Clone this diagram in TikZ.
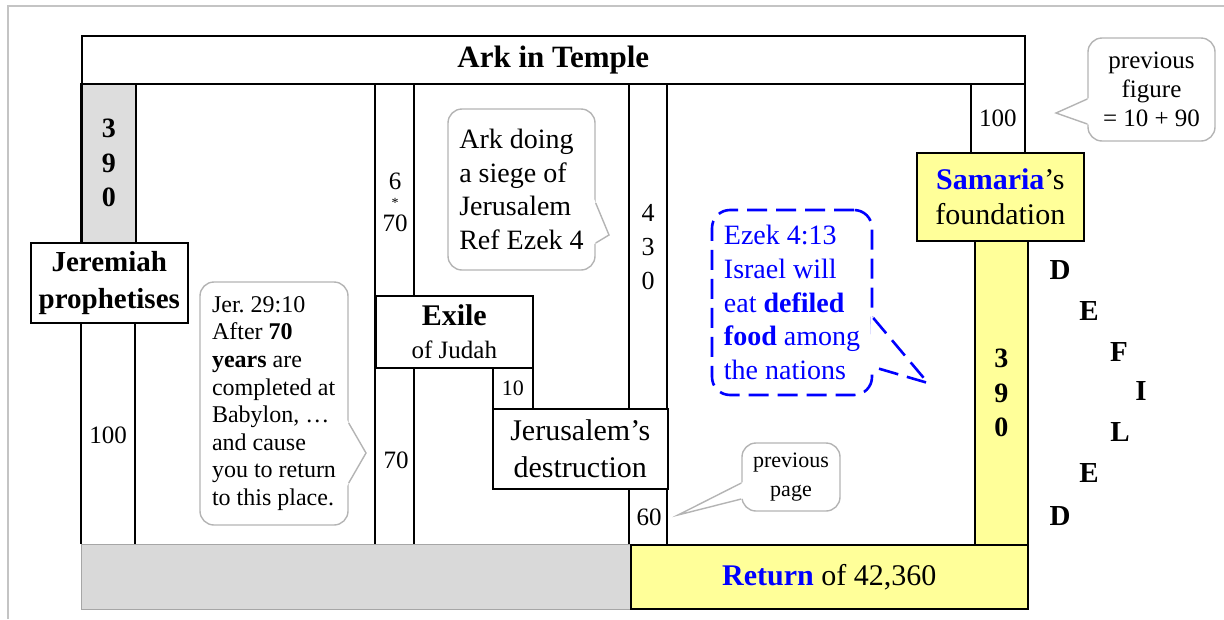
\documentclass[tikz,border=0pt]{standalone}
\usepackage{fontspec}
\setmainfont{Liberation Serif}
\usetikzlibrary{calc}
\definecolor{PaleYellow}{HTML}{FFFF99}
\definecolor{ColGray}{HTML}{DDDDDD}
\definecolor{BaseGray}{HTML}{D9D9D9}
\definecolor{BaseEdge}{HTML}{A6A6A6}
\definecolor{NoteGray}{HTML}{B4B4B4}
\definecolor{FrameGray}{HTML}{C4C4C4}
\definecolor{PureBlue}{HTML}{0000FF}
\tikzset{
  cell/.style={draw=black, line width=1.6pt, fill=white, anchor=north west, inner sep=0pt, align=center},
  yellowcell/.style={cell, fill=PaleYellow},
  colline/.style={draw=black, line width=1.6pt},
  numtext/.style={inner sep=0pt, align=center, font=\fontsize{25}{30}\selectfont},
  stackfont/.style={font=\fontsize{28}{34.5}\selectfont\bfseries},
  note/.style={draw=NoteGray, line width=1.4pt, fill=white, rounded corners=14pt, inner sep=0pt},
  noteline/.style={draw=NoteGray, line width=1.4pt},
  ezeknote/.style={draw=PureBlue, line width=2.6pt, dash pattern=on 20pt off 9pt, fill=white, rounded corners=18pt, inner sep=0pt, text=PureBlue},
  ezekline/.style={draw=PureBlue, line width=2.6pt, dash pattern=on 20pt off 9pt},
  defletter/.style={inner sep=0pt, font=\fontsize{29}{29}\selectfont\bfseries}
}
% tail of a speech bubble: style, base start, tip, base end
\newcommand{\notetail}[4]{%
  \fill[white] ($#2!-4pt!#3$) -- #3 -- ($#4!-4pt!#3$) -- cycle;
  \draw[#1] #2 -- #3 -- #4;}

\begin{document}
\begin{tikzpicture}[x=1pt, y=-1pt]
\useasboundingbox (0,0) rectangle (1224,619);
\draw[draw=FrameGray, line width=1.2pt] (8,619) -- (8,6) -- (1224,6);

% column edges
\draw[colline] (81,83) -- (81,544) (135,83) -- (135,544);
\draw[colline] (375,83) -- (375,544) (414,83) -- (414,544);
\draw[colline] (629,83) -- (629,544) (667,83) -- (667,544);

\node[cell, minimum width=943pt, minimum height=48pt, font=\fontsize{31}{36}\selectfont\bfseries] (ark) at (81,35) {Ark in Temple};

% Jeremiah column
\node[cell, fill=ColGray, minimum width=54pt, minimum height=159pt, stackfont] (jerCol) at (81,83) {3\\9\\0};
\node[cell, minimum width=157pt, minimum height=80pt, font=\fontsize{29}{37}\selectfont\bfseries] (jeremiah) at (30,242) {Jeremiah\\prophetises};
\node[numtext] (jerYears) at (108,435) {100};

% exile column
\node[numtext] (sixTop) at (395,181) {6};
\node[inner sep=0pt, font=\fontsize{14}{14}\selectfont] (sixStar) at (395,203) {*};
\node[numtext] (sixBottom) at (395,223) {70};
\node[cell, minimum width=157pt, minimum height=72pt, font=\fontsize{25}{33}\selectfont] (exile) at (375,295) {{\fontsize{30}{33}\selectfont\bfseries Exile}\\of Judah};
\node[numtext] (exileYears) at (396,460) {70};
\node[cell, minimum width=40pt, minimum height=41pt, font=\fontsize{22}{26}\selectfont] (ten) at (492,367) {10};
\node[cell, minimum width=175pt, minimum height=80pt, font=\fontsize{30}{37}\selectfont] (jerusalem) at (492,408) {Jerusalem’s\\destruction};

% siege column
\node[numtext, font=\fontsize{26}{34}\selectfont] (siege) at (648,247) {4\\3\\0};
\node[numtext] (sixty) at (649,517) {60};

% Samaria column
\node[cell, minimum width=54pt, minimum height=69pt, font=\fontsize{25}{30}\selectfont] (hundred) at (970,83) {100};
\node[yellowcell, minimum width=53pt, minimum height=305pt, stackfont] (samCol) at (974,240) {3\\9\\0};
\node[yellowcell, minimum width=167pt, minimum height=88pt, font=\fontsize{30}{35}\selectfont] (samaria) at (916,152) {\textcolor{PureBlue}{\bfseries Samaria}’s\\foundation};

% bottom row
\node[cell, fill=BaseGray, draw=BaseEdge, line width=1.2pt, minimum width=549pt, minimum height=65pt] (base) at (81,544) {};
\node[yellowcell, minimum width=397pt, minimum height=64pt, font=\fontsize{30}{36}\selectfont] (return) at (630,544) {\textcolor{PureBlue}{\bfseries Return} of 42,360};

% DEFILED
\node[defletter] (defD) at (1060,270) {D};
\node[defletter] (defE) at (1089,311) {E};
\node[defletter] (defF) at (1119,352) {F};
\node[defletter] (defI) at (1141,391) {I};
\node[defletter] (defL) at (1120,432) {L};
\node[defletter] (defEb) at (1089,473) {E};
\node[defletter] (defDb) at (1060,516) {D};

% speech bubbles
\node[note, minimum width=147pt, minimum height=161pt, align=left, font=\fontsize{28}{33.7}\selectfont] (arkNote) at (521.5,189.5) {Ark doing\\a siege of\\Jerusalem\\Ref Ezek 4};
\coordinate (arkA) at ($(arkNote.east)+(0,13.5)$);
\coordinate (arkB) at ($(arkNote.east)+(0,53.5)$);
\coordinate (arkTip) at (609,235);
\notetail{noteline}{(arkA)}{(arkTip)}{(arkB)}

\node[note, minimum width=148pt, minimum height=243pt, align=left, font=\fontsize{24}{27.6}\selectfont] (jerNote) at (274,403.5) {Jer.\ 29:10\\After \textbf{70}\\\textbf{years} are\\completed at\\Babylon, …\\and cause\\you to return\\to this place.};
\coordinate (jerA) at ($(jerNote.east)+(0,19.5)$);
\coordinate (jerB) at ($(jerNote.east)+(0,79.5)$);
\coordinate (jerTip) at (366,453);
\notetail{noteline}{(jerA)}{(jerTip)}{(jerB)}

\node[ezeknote, minimum width=160pt, minimum height=185pt, align=left, font=\fontsize{28}{33.7}\selectfont] (ezekNote) at (792,302.5) {Ezek 4:13\\Israel will\\eat \textbf{defiled}\\\textbf{food} among\\the nations};
\coordinate (ezekA) at ($(ezekNote.east)+(0,15.5)$);
\coordinate (ezekB) at ($(ezekNote.east)+(0,64.5)$);
\coordinate (ezekTip) at (928,383);
\notetail{ezekline}{(ezekA)}{(ezekTip)}{(ezekB)}

\node[note, minimum width=127pt, minimum height=103pt, align=center, font=\fontsize{25}{29}\selectfont] (figNote) at (1151.5,89.5) {previous\\figure\\= 10 + 90};
\coordinate (figA) at ($(figNote.west)+(0,9.5)$);
\coordinate (figB) at ($(figNote.west)+(0,34.5)$);
\coordinate (figTip) at (1056,113);
\notetail{noteline}{(figA)}{(figTip)}{(figB)}

\node[note, minimum width=98pt, minimum height=68pt, align=center, font=\fontsize{22}{29}\selectfont] (pageNote) at (791,477) {previous\\page};
\coordinate (pageA) at ($(pageNote.west)+(0,6)$);
\coordinate (pageB) at ($(pageNote.west)+(0,22)$);
\coordinate (pageTip) at (678,515);
\notetail{noteline}{(pageA)}{(pageTip)}{(pageB)}
\end{tikzpicture}
\end{document}
